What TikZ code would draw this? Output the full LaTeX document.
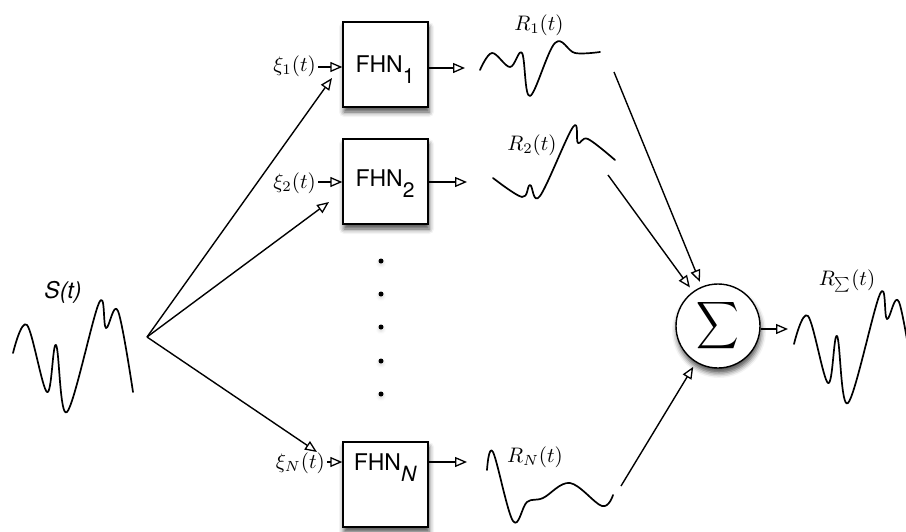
\documentclass[tikz,border=0pt]{standalone}
\usepackage{fontspec}
\newfontfamily\helv{TeX Gyre Heros}
\usetikzlibrary{arrows.meta,shadows.blur}
\newcommand\mlab[2]{\scalebox{#1}{$#2$}}
\begin{document}
\begin{tikzpicture}[x=1pt,y=-1pt,
  wire/.style={line width=1.4pt},
  arr/.style={wire,-{Triangle[open,length=12pt,width=10pt,line width=1.3pt]}},
  wave/.style={line width=1.7pt,line cap=round,line join=round},
  shade/.style={blur shadow={shadow xshift=1pt,shadow yshift=-5pt,shadow blur radius=5pt,shadow opacity=70}},
  fhnbox/.style={draw,line width=1.4pt,fill=white,minimum width=85pt,minimum height=85pt,inner sep=0pt,shade},
  fhntext/.style={font={\fontsize{23}{23}\selectfont\helv},inner sep=0pt},
  xilabel/.style={inner sep=0pt},
  rlabel/.style={inner sep=0pt},
  dot/.style={circle,fill=black,minimum size=5pt,inner sep=0pt,blur shadow={shadow xshift=0pt,shadow yshift=-2pt,shadow blur radius=3pt,shadow opacity=15}},
  sumnode/.style={draw,circle,line width=1.4pt,fill=white,minimum size=84pt,inner sep=0pt,shade}
]
\useasboundingbox (0,0) rectangle (906,531);

% boxes
\node[fhnbox] (fhn1) at (385.5,64.5) {};
\node[fhnbox] (fhn2) at (385.5,181.5) {};
\node[fhnbox] (fhnN) at (385.5,484.5) {};
\node[fhntext,anchor=base] (fhn1t) at (385,72) {FHN\raisebox{-11pt}{\fontsize{21}{21}\selectfont 1}};
\node[fhntext,anchor=base] (fhn2t) at (385,186) {FHN\raisebox{-11pt}{\fontsize{21}{21}\selectfont 2}};
\node[fhntext,anchor=base] (fhnNt) at (385,470) {FHN\raisebox{-11pt}{\fontsize{21}{21}\selectfont\itshape N}};

% dots
\foreach \i/\y in {1/261,2/294,3/327,4/361,5/394}
  \node[dot] (d\i) at (381,\y) {};

% sum
\node[sumnode] (sigma) at (718,326) {\scalebox{2.95}[3.3]{$\displaystyle\sum$}};

% noise labels and arrows
\node[xilabel,anchor=base east] (xi1) at (316,71) {\mlab{2.1}{\xi_1(t)}};
\node[xilabel,anchor=base east] (xi2) at (316,188) {\mlab{2.1}{\xi_2(t)}};
\node[xilabel,anchor=base east] (xiN) at (325,468) {\mlab{2.1}{\xi_N(t)}};
\path (xi1.base east) ++(2,-4) coordinate (x1s);
\path (xi2.base east) ++(2,-6) coordinate (x2s);
\path (xiN.base east) ++(2,-6) coordinate (xNs);
\draw[arr] (x1s) -- (x1s -| fhn1.west);
\draw[arr] (x2s) -- (x2s -| fhn2.west);
\draw[arr] (xNs) -- (xNs -| fhnN.west);

% source fan-out
\coordinate (src) at (147,337);
\coordinate (a1) at (332,78);
\coordinate (a2) at (329,202);
\coordinate (aN) at (317,452);
\draw[arr] (src) -- (a1);
\draw[arr] (src) -- (a2);
\draw[arr] (src) -- (aN);

% outputs
\coordinate (o1) at (465,68);
\coordinate (o2) at (467,182);
\coordinate (oN) at (467,462);
\draw[arr] (fhn1.east |- o1) -- (o1);
\draw[arr] (fhn2.east |- o2) -- (o2);
\draw[arr] (fhnN.east |- oN) -- (oN);

% to sum
\coordinate (c1) at (614,72);
\coordinate (c2) at (608,175);
\coordinate (cN) at (621,486);
\draw[arr,shorten >=5pt] (c1) -- (sigma);
\draw[arr,shorten >=5pt] (c2) -- (sigma);
\draw[arr,shorten >=5pt] (cN) -- (sigma);
\coordinate (so) at (788,329);
\draw[arr] (sigma.east |- so) -- (so);

% waveforms
\def\swave{(13,353) (27,325) (47,392) (56,345) (67,412) (99,303) (106,328) (118,311) (133,392)}
\draw[wave] plot[smooth,tension=0.6] coordinates {\swave};
\begin{scope}
\clip (0,0) rectangle (906,531);
\draw[wave,shift={(781,-9)}] plot[smooth,tension=0.6] coordinates {\swave};
\end{scope}
\draw[wave] plot[smooth,tension=0.6] coordinates {(480,70) (492,53) (510,67) (522,53) (530,96) (555,43) (575,53) (600,52)};
\draw[wave] plot[smooth,tension=0.6] coordinates {(493,178) (522,197) (530,185) (540,196) (573,127) (578,143) (588,139) (615,160)};
\draw[wave] plot[smooth,tension=0.6] coordinates {(487,470) (493,452) (513,521) (527,502) (543,498) (570,483) (602,506) (613,495)};

% labels
\node[font={\fontsize{23}{23}\selectfont\helv\itshape},inner sep=0pt] (slab) at (63,292) {S(t)};
\node[rlabel,anchor=base] (r1) at (539,30) {\mlab{2.1}{R_1(t)}};
\node[rlabel,anchor=base] (r2) at (532,150) {\mlab{2.1}{R_2(t)}};
\node[rlabel,anchor=base] (rN) at (535,462) {\mlab{2.1}{R_N(t)}};
\node[rlabel,anchor=base] (rs) at (847,285) {\mlab{2.1}{R_{\scalebox{0.7}{$\sum$}}(t)}};
\end{tikzpicture}
\end{document}
